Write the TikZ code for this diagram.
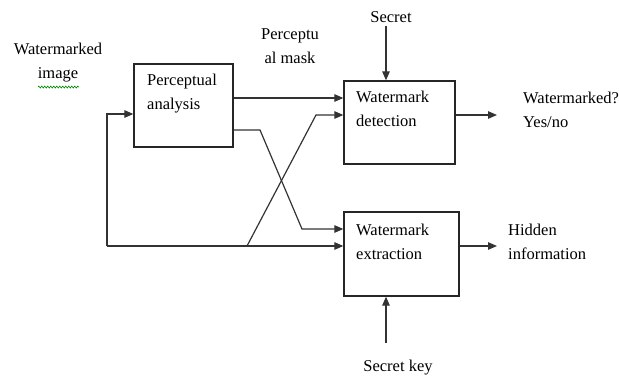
\documentclass[tikz,border=0pt]{standalone}
\usepackage{fontspec}
\setmainfont{Liberation Serif}
\usetikzlibrary{arrows.meta,decorations.pathmorphing}

\tikzset{
  blk/.style={draw=black!85, line width=1.3pt, inner sep=0pt},
  txt/.style={font=\fontsize{16.5}{24}\selectfont, inner sep=0pt, text=black},
  wire/.style={draw=black!80, line width=1.2pt},
  arr/.style={wire, -{Triangle[length=9pt,width=7.5pt]}},
}

\begin{document}
\begin{tikzpicture}[x=1pt,y=-1pt]
\useasboundingbox (0,0) rectangle (619,378);

% processing blocks
\node[blk, minimum width=99pt, minimum height=83pt] (pa) at (183.5,105.5) {};
\node[blk, minimum width=111pt, minimum height=83pt] (det) at (399.5,122.5) {};
\node[blk, minimum width=115pt, minimum height=84pt] (ext) at (401.5,254) {};

% block captions
\node[txt, align=left, anchor=north west] (pat) at (147,74) {Perceptual\\analysis};
\node[txt, align=left, anchor=north west] (dett) at (356,91) {Watermark\\detection};
\node[txt, align=left, anchor=north west] (extt) at (356,224) {Watermark\\extraction};

% free labels
\node[txt, align=center] (wmi) at (58,63) {Watermarked\\image};
\node[txt, align=center] (pm) at (290,46) {Perceptu\\al mask};
\node[txt, anchor=base] (sec) at (391,22) {Secret};
\node[txt, anchor=base] (skey) at (398,371) {Secret key};
\node[txt, align=left, anchor=north west] (yn) at (523,92) {Watermarked?\\Yes/no};
\node[txt, align=left, anchor=north west] (hid) at (508,224) {Hidden\\information};

% spell-check squiggle under "image"
\draw[green!55!black, line width=0.6pt, decorate,
      decoration={zigzag, segment length=3pt, amplitude=1pt}]
  (38,87) -- (79,87);

% perceptual mask straight into detection
\draw[arr] ([yshift=7.5pt]pa.east) coordinate (m1) -- (m1 -| det.west);

% perceptual mask crossing down to extraction
\coordinate (m2) at ([yshift=-24.5pt]pa.east);
\coordinate (m2b) at (302,229);
\draw[arr] (m2) -- (260,130) -- (m2b) -- (m2b -| ext.west);

% watermarked image feedback into analysis, extraction and detection
\coordinate (c0) at (107,246);
\coordinate (c1) at (247,246);
\coordinate (c2) at (316,115);
\draw[arr] (c0) |- ([yshift=-8.5pt]pa.west);
\draw[arr] (c0) -- (c0 -| ext.west);
\draw[arr] (c1) -- (c2) -- (c2 -| det.west);

% outputs
\draw[arr] (det.east |- c2) -- (497,115);
\draw[arr] (ext.east |- c0) -- (497,246);

% keys
\draw[arr] ([xshift=-5pt,yshift=-4pt]sec.base) coordinate (k1) -- (k1 |- det.north);
\draw[arr] (386,343) coordinate (k2) -- (k2 |- ext.south);

\end{tikzpicture}
\end{document}
